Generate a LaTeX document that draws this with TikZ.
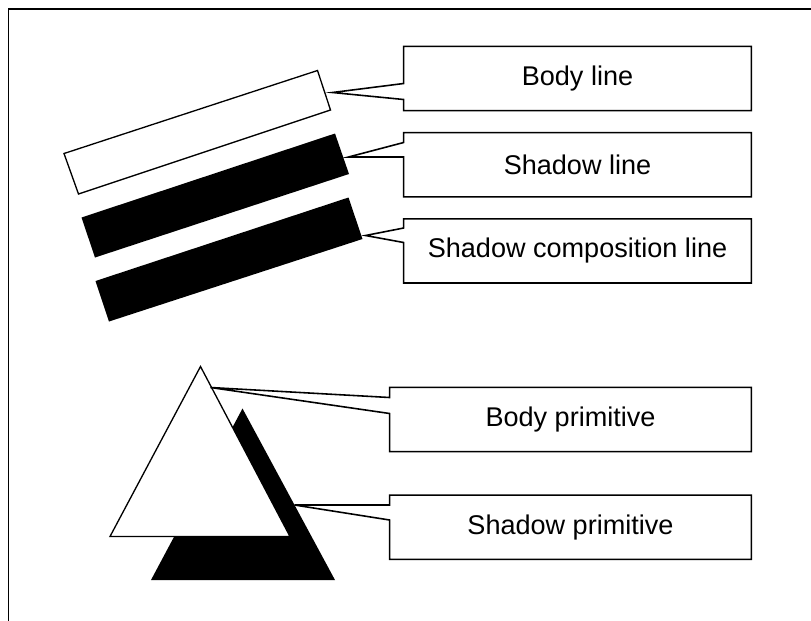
\documentclass[tikz,border=0pt]{standalone}
\usepackage{fontspec}
\setmainfont{Liberation Sans}
\usepackage{tikz}
\usetikzlibrary{positioning}

\begin{document}
\begin{tikzpicture}[line cap=butt,line join=miter,
 label box/.style={minimum width=6.94cm,minimum height=1.27cm,inner sep=0pt,
  font=\fontsize{15.4}{18}\selectfont},
 callout line/.style={line width=.9pt},
 outline/.style={line width=.75pt}]
\useasboundingbox (0,0) rectangle (16.22,-12.4);
% Ramka (tylko lewa i górna krawędź)
\draw[line width=.8pt] (.166,-12.6) -- (.166,-.18) -- (16.4,-.18);
% Trzy linie: ciało, cień, cień złożony
\draw[outline,fill=white] (1.28,-3.07) -- (6.35,-1.41) -- (6.61,-2.2) -- (1.57,-3.88) -- cycle;
\fill[black] (1.63,-4.35) -- (6.7,-2.67) -- (6.98,-3.48) -- (1.9,-5.15) -- cycle;
\fill[black] (1.91,-5.62) -- (6.97,-3.95) -- (7.25,-4.78) -- (2.18,-6.43) -- cycle;
% Trójkąty: cień pod spodem, ciało na wierzchu
\fill[black] (4.85,-8.17) -- (3.02,-11.6) -- (6.7,-11.6) -- cycle;
\draw[outline,fill=white] (4.01,-7.33) -- (2.2,-10.73) -- (5.8,-10.73) -- cycle;
% Końce wskaźników
\coordinate (tipBody) at (6.65,-1.85);
\coordinate (tipShadow) at (6.97,-3.14);
\coordinate (tipComp) at (7.31,-4.71);
\coordinate (tipBodyPrim) at (4.21,-7.75);
\coordinate (tipShadowPrim) at (5.89,-10.1);
% Opisy
\node[label box] (bodyLine) at (11.55,-1.57) {Body line};
\node[label box,below=.44cm of bodyLine] (shadowLine) {Shadow line};
\node[label box,below=.44cm of shadowLine] (compLine) {Shadow composition line};
\node[label box,minimum width=7.22cm] (bodyPrim) at (11.41,-8.39) {Body primitive};
\node[label box,minimum width=7.22cm,below=.87cm of bodyPrim] (shadowPrim) {Shadow primitive};
% Obrysy z wskaźnikami
\draw[callout line] (bodyLine.north west) -- (bodyLine.west |- 0,-1.67) -- (tipBody)
 -- (bodyLine.west |- 0,-1.99) -- (bodyLine.south west) -- (bodyLine.south east)
 -- (bodyLine.north east) -- cycle;
\draw[callout line] (shadowLine.north west) -- (shadowLine.west |- 0,-2.85) -- (tipShadow)
 -- (shadowLine.west |- 0,-3.14) -- (shadowLine.south west) -- (shadowLine.south east)
 -- (shadowLine.north east) -- cycle;
\draw[callout line] (compLine.north west) -- (compLine.west |- 0,-4.56) -- (tipComp)
 -- (compLine.west |- 0,-4.85) -- (compLine.south west) -- (compLine.south east)
 -- (compLine.north east) -- cycle;
\draw[callout line] (bodyPrim.north west) -- (bodyPrim.west |- 0,-7.95) -- (tipBodyPrim)
 -- (bodyPrim.west |- 0,-8.27) -- (bodyPrim.south west) -- (bodyPrim.south east)
 -- (bodyPrim.north east) -- cycle;
\draw[callout line] (shadowPrim.north west) -- (shadowPrim.west |- 0,-10.1) -- (tipShadowPrim)
 -- (shadowPrim.west |- 0,-10.4) -- (shadowPrim.south west) -- (shadowPrim.south east)
 -- (shadowPrim.north east) -- cycle;
\end{tikzpicture}
\end{document}
